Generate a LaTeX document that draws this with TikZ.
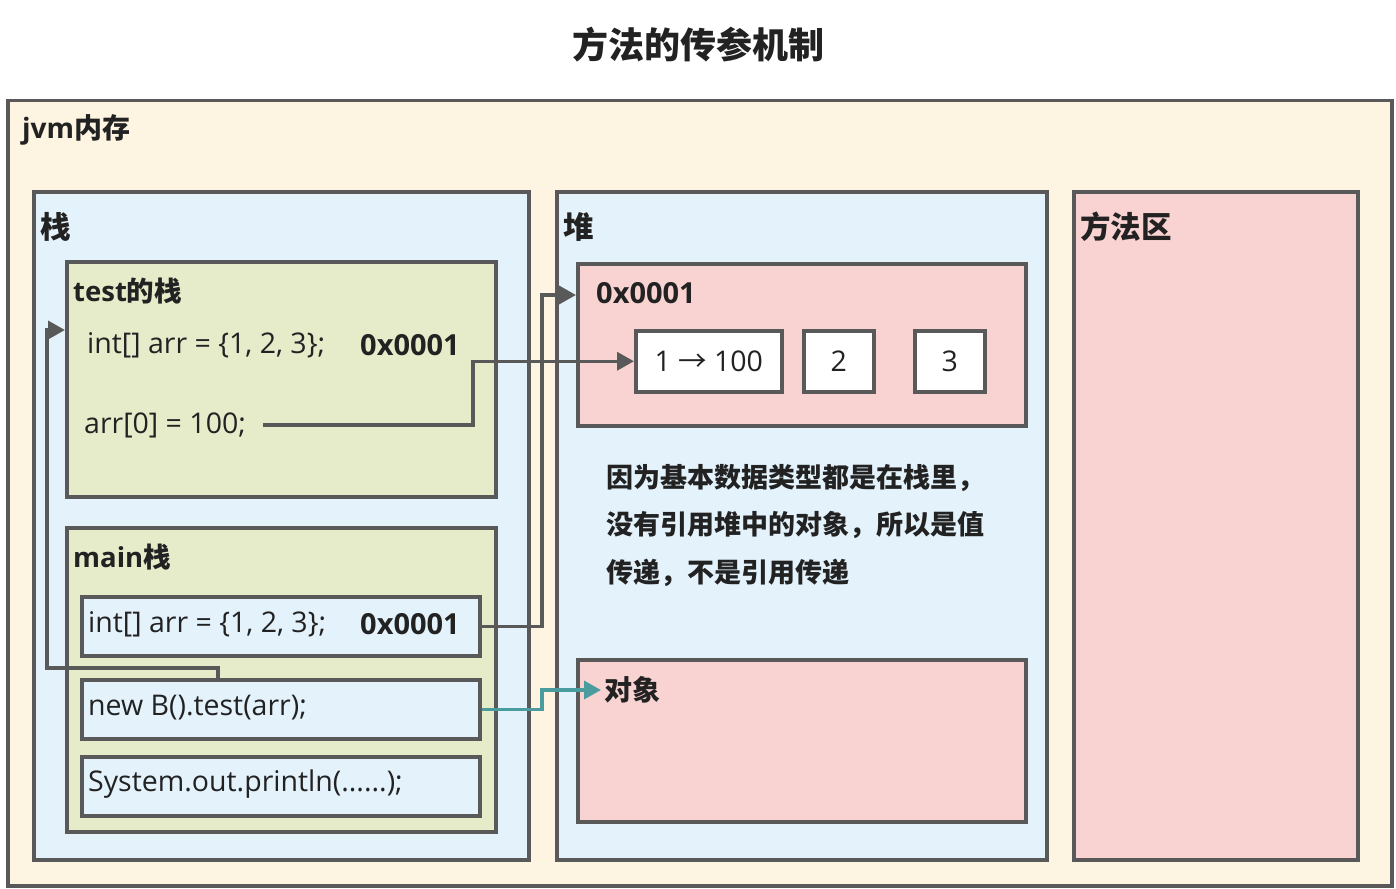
\documentclass[tikz,border=0pt]{standalone}
\usepackage{fontspec}
\setmainfont{Open Sans}
\newfontfamily\cjk{Noto Sans CJK SC}
\usetikzlibrary{arrows.meta}
\definecolor{bd}{HTML}{595959}
\definecolor{cream}{HTML}{FDF5E1}
\definecolor{lblue}{HTML}{E3F2FB}
\definecolor{olive}{HTML}{E6EBC9}
\definecolor{pinkf}{HTML}{F9D3D1}
\definecolor{teal2}{HTML}{4A9C9E}
\definecolor{txt}{HTML}{222222}
\begin{document}
\begin{tikzpicture}[x=1pt,y=-1pt,
  box/.style={draw=bd,line width=3.5pt,inner sep=0pt,anchor=north west},
  lbl/.style={anchor=west,inner sep=0pt,text=txt,font=\bfseries\fontsize{27.5}{31}\selectfont},
  addr/.style={anchor=west,inner sep=0pt,text=txt,font=\bfseries\fontsize{29}{33}\selectfont},
  big/.style={anchor=west,inner sep=0pt,text=txt,font=\cjk\bfseries\fontsize{30.5}{34}\selectfont},
  code/.style={anchor=west,inner sep=0pt,text=txt,font=\fontsize{28.5}{32}\selectfont},
  cell/.style={box,fill=white},
  conn/.style={draw=bd,line width=3.5pt,-{Triangle[length=17pt,width=18pt]}},
  tconn/.style={draw=teal2,line width=3.5pt,-{Triangle[length=17pt,width=18pt]}}]
\useasboundingbox (0,0) rectangle (1396,888);
\node[font=\cjk\bfseries\fontsize{36}{40}\selectfont,text=txt] (title) at (698,45) {方法的传参机制};
% outer
\node[box,fill=cream,minimum width=1384pt,minimum height=785pt] (jvm) at (6,99) {};
\node[lbl,font=\bfseries\fontsize{28}{32}\selectfont] (jvml) at (22,130) {jvm{\cjk 内存}};
% three areas
\node[box,fill=lblue,minimum width=495pt,minimum height=668pt] (stack) at (32,190) {};
\node[big] (stackl) at (40,227) {栈};
\node[box,fill=lblue,minimum width=490pt,minimum height=668pt] (heap) at (555,190) {};
\node[big] (heapl) at (563,227) {堆};
\node[box,fill=pinkf,minimum width=284pt,minimum height=668pt] (meth) at (1072,190) {};
\node[big] (methl) at (1080,227) {方法区};
% test stack
\node[box,fill=olive,minimum width=429pt,minimum height=235pt] (test) at (65,260) {};
\node[lbl] (testl) at (73,291) {test{\cjk 的栈}};
\node[code] (t1) at (87,345) {int[] arr = \{1, 2, 3\};};
\node[addr] (t1a) at (360,345) {0x0001};
\node[code] (a0) at (84,425) {arr[0] = 100;};
% main stack
\node[box,fill=olive,minimum width=429pt,minimum height=304pt] (main) at (65,526) {};
\node[lbl] (mainl) at (73,557) {main{\cjk 栈}};
\node[box,fill=lblue,minimum width=398pt,minimum height=59pt] (b1) at (80,595) {};
\node[code] (b1t) at (88,624) {int[] arr = \{1, 2, 3\};};
\node[addr] (b1a) at (360,624) {0x0001};
\node[box,fill=lblue,minimum width=398pt,minimum height=59pt] (b2) at (80,678) {};
\node[code] (b2t) at (88,708) {new B().test(arr);};
\node[box,fill=lblue,minimum width=398pt,minimum height=59pt] (b3) at (80,755) {};
\node[code] (b3t) at (88,784) {System.out.println(......);};
% heap
\node[box,fill=pinkf,minimum width=448pt,minimum height=162pt] (arrbox) at (576,262) {};
\node[addr] (arrl) at (596,293) {0x0001};
\node[cell,minimum width=146pt,minimum height=61pt] (c1) at (634,329) {};
\node[code,anchor=center] (c1t) at (c1.center) {1 {\cjk →} 100};
\node[cell,minimum width=70pt,minimum height=61pt] (c2) at (802,329) {};
\node[code,anchor=center] (c2t) at (c2.center) {2};
\node[cell,minimum width=70pt,minimum height=61pt] (c3) at (913,329) {};
\node[code,anchor=center] (c3t) at (c3.center) {3};
\node[anchor=north west,inner sep=0pt,text=txt,align=left,font=\cjk\bfseries\fontsize{27}{47.5}\selectfont] (note) at (606,464) {因为基本数据类型都是在栈里，\\没有引用堆中的对象，所以是值\\传递，不是引用传递};
\node[box,fill=pinkf,minimum width=448pt,minimum height=162pt] (obj) at (576,658) {};
\node[lbl,font=\cjk\bfseries\fontsize{28}{32}\selectfont,inner sep=3pt] (objl) at (601,690) {对象};
% helper coordinates
\coordinate (a0e) at ([xshift=17pt]a0.east);
\coordinate (vx1) at (473,0);
\coordinate (vx2) at (542,0);
\coordinate (hy) at (0,295);
\coordinate (sx) at (218,0);
\coordinate (hy2) at (0,668);
\coordinate (lx) at (47,0);
\coordinate (ty) at (0,330);
% connectors
\draw[conn] (a0e) -- (a0e -| vx1) |- (c1.west);
\draw[conn] (b1.east) -- (b1.east -| vx2) -- (vx2 |- hy) -- (arrbox.west |- hy);
\draw[tconn] (b2.east) -- (b2.east -| vx2) |- (objl.west);
\draw[conn] (b2.north -| sx) -- (sx |- hy2) -- (lx |- hy2) -- (lx |- ty) -- (test.west |- ty);
\end{tikzpicture}
\end{document}
